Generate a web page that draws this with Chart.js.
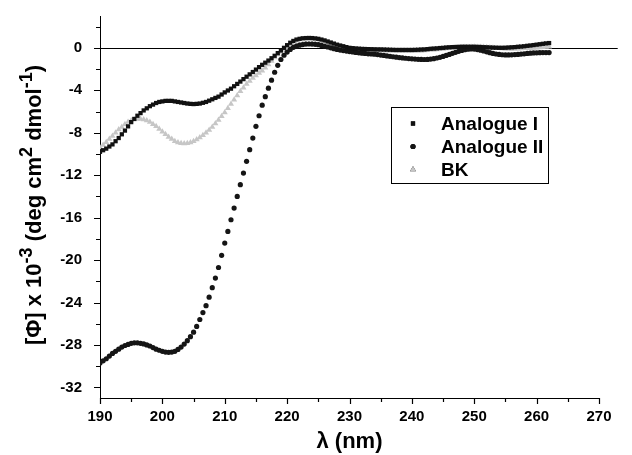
<!DOCTYPE html>
<html>
<head>
<meta charset="utf-8">
<script src="https://cdn.jsdelivr.net/npm/chart.js@4.4.1/dist/chart.umd.min.js"></script>
<style>
  body { margin: 0; background: #fff; }
  #wrap { position: relative; width: 632px; height: 455px; }
</style>
</head>
<body>
<div id="wrap"><canvas id="myChart"></canvas></div>
<script>
//////////////////////////////
////////// CD spectra ////////
//////////////////////////////

// Wavelength (nm), 0.5 nm steps
const wavelengths = [
  190,190.5,191,191.5,192,192.5,193,193.5,194,194.5,
  195,195.5,196,196.5,197,197.5,198,198.5,199,199.5,
  200,200.5,201,201.5,202,202.5,203,203.5,204,204.5,
  205,205.5,206,206.5,207,207.5,208,208.5,209,209.5,
  210,210.5,211,211.5,212,212.5,213,213.5,214,214.5,
  215,215.5,216,216.5,217,217.5,218,218.5,219,219.5,
  220,220.5,221,221.5,222,222.5,223,223.5,224,224.5,
  225,225.5,226,226.5,227,227.5,228,228.5,229,229.5,
  230,230.5,231,231.5,232,232.5,233,233.5,234,234.5,
  235,235.5,236,236.5,237,237.5,238,238.5,239,239.5,
  240,240.5,241,241.5,242,242.5,243,243.5,244,244.5,
  245,245.5,246,246.5,247,247.5,248,248.5,249,249.5,
  250,250.5,251,251.5,252,252.5,253,253.5,254,254.5,
  255,255.5,256,256.5,257,257.5,258,258.5,259,259.5,
  260,260.5,261,261.5,262
];

// [Phi] x 10^-3 for each sample
const analogueI = [
  -9.8,-9.65,-9.5,-9.3,-9.1,-8.8,-8.5,-8.15,-7.8,-7.4,
  -7.0,-6.7,-6.4,-6.15,-5.9,-5.7,-5.5,-5.35,-5.2,-5.1,
  -5.05,-5.0,-5.0,-5.0,-5.05,-5.1,-5.15,-5.2,-5.25,-5.28,
  -5.3,-5.28,-5.25,-5.18,-5.1,-4.98,-4.85,-4.72,-4.6,-4.4,
  -4.2,-4.02,-3.85,-3.62,-3.4,-3.18,-2.95,-2.72,-2.5,-2.28,
  -2.05,-1.82,-1.6,-1.4,-1.2,-0.98,-0.75,-0.5,-0.25,0.0,
  0.25,0.48,0.65,0.78,0.85,0.9,0.92,0.93,0.92,0.89,
  0.85,0.78,0.7,0.6,0.5,0.4,0.3,0.22,0.15,0.07,
  0.0,-0.03,-0.06,-0.08,-0.1,-0.11,-0.12,-0.13,-0.14,-0.15,
  -0.15,-0.16,-0.17,-0.18,-0.19,-0.2,-0.2,-0.2,-0.2,-0.2,
  -0.2,-0.19,-0.18,-0.16,-0.15,-0.12,-0.09,-0.07,-0.05,-0.02,
  0.0,0.03,0.05,0.07,0.08,0.09,0.1,0.1,0.1,0.1,
  0.1,0.09,0.08,0.06,0.05,0.03,0.02,0.01,0.0,0.0,
  0.01,0.03,0.05,0.07,0.1,0.12,0.15,0.19,0.22,0.26,
  0.3,0.34,0.38,0.42,0.45
];

const analogueII = [
  -29.7,-29.5,-29.3,-29.05,-28.8,-28.6,-28.4,-28.2,-28.05,-27.95,
  -27.85,-27.8,-27.8,-27.85,-27.9,-28.0,-28.1,-28.25,-28.4,-28.5,
  -28.6,-28.67,-28.7,-28.67,-28.6,-28.42,-28.2,-27.92,-27.6,-27.22,
  -26.8,-26.25,-25.6,-24.95,-24.3,-23.5,-22.6,-21.7,-20.7,-19.55,
  -18.4,-17.3,-16.2,-15.1,-14.0,-12.9,-11.8,-10.7,-9.6,-8.5,
  -7.4,-6.4,-5.4,-4.6,-3.8,-3.05,-2.3,-1.65,-1.1,-0.7,
  -0.4,-0.15,0.05,0.16,0.25,0.31,0.35,0.36,0.35,0.33,
  0.3,0.23,0.15,0.08,0.0,-0.08,-0.15,-0.21,-0.26,-0.31,
  -0.35,-0.39,-0.43,-0.47,-0.5,-0.53,-0.56,-0.58,-0.6,-0.64,
  -0.68,-0.72,-0.76,-0.8,-0.84,-0.88,-0.92,-0.95,-0.98,-1.01,
  -1.04,-1.06,-1.08,-1.09,-1.1,-1.09,-1.06,-1.02,-0.96,-0.89,
  -0.81,-0.72,-0.62,-0.52,-0.42,-0.33,-0.25,-0.18,-0.13,-0.11,
  -0.12,-0.16,-0.22,-0.3,-0.38,-0.46,-0.53,-0.58,-0.62,-0.65,
  -0.67,-0.67,-0.66,-0.64,-0.62,-0.59,-0.56,-0.53,-0.5,-0.48,
  -0.47,-0.46,-0.45,-0.45,-0.45
];

const bk = [
  -9.4,-9.15,-8.9,-8.6,-8.3,-8.0,-7.7,-7.45,-7.2,-7.0,
  -6.85,-6.75,-6.7,-6.7,-6.75,-6.85,-7.0,-7.2,-7.4,-7.65,
  -7.9,-8.15,-8.4,-8.6,-8.8,-8.92,-9.0,-9.02,-9.0,-8.92,
  -8.8,-8.64,-8.45,-8.24,-8.0,-7.74,-7.45,-7.14,-6.8,-6.45,
  -6.1,-5.7,-5.3,-4.9,-4.5,-4.1,-3.75,-3.42,-3.12,-2.85,
  -2.6,-2.38,-2.15,-1.88,-1.58,-1.25,-0.9,-0.62,-0.4,-0.2,
  0.0,0.1,0.2,0.28,0.35,0.4,0.44,0.45,0.45,0.43,
  0.4,0.35,0.3,0.25,0.2,0.15,0.1,0.05,0.0,-0.05,
  -0.1,-0.13,-0.15,-0.18,-0.2,-0.21,-0.22,-0.23,-0.24,-0.25,
  -0.25,-0.26,-0.27,-0.28,-0.29,-0.3,-0.3,-0.3,-0.3,-0.3,
  -0.3,-0.29,-0.28,-0.27,-0.25,-0.22,-0.19,-0.17,-0.15,-0.12,
  -0.1,-0.07,-0.05,-0.02,0.0,0.03,0.05,0.07,0.08,0.09,
  0.1,0.09,0.08,0.07,0.05,0.02,0.0,-0.03,-0.05,-0.07,
  -0.08,-0.09,-0.1,-0.09,-0.08,-0.07,-0.05,-0.04,-0.03,-0.01,
  0.0,0.03,0.06,0.08,0.1
];

// Tick labels / tick marks
const xMajorTicks = [190, 200, 210, 220, 230, 240, 250, 260, 270];
const xMinorTicks = [195, 205, 215, 225, 235, 245, 255, 265];
const yMajorTicks = [-32, -28, -24, -20, -16, -12, -8, -4, 0];
const yMinorTicks = [-30, -26, -22, -18, -14, -10, -6, -2, 2];

const seriesNames = ['Analogue I', 'Analogue II', 'BK'];

const FONT = '"Liberation Sans", Arial, Helvetica, sans-serif';

// pair up x and y
function toPoints(values) {
  return wavelengths.map((x, i) => ({ x: x, y: values[i] }));
}

// Extra drawing: zero line, tick marks, y title with superscripts, legend box
const extras = {
  id: 'extras',
  beforeDatasetsDraw(chart) {
    const ctx = chart.ctx;
    const xs = chart.scales.x, ys = chart.scales.y;
    const y0 = Math.round(ys.getPixelForValue(0)) + 0.5;
    ctx.save();
    ctx.strokeStyle = '#000';
    ctx.lineWidth = 1;
    ctx.beginPath();
    ctx.moveTo(chart.chartArea.left, y0);
    ctx.lineTo(xs.getPixelForValue(273), y0);
    ctx.stroke();
    ctx.restore();
  },
  afterDraw(chart) {
    const ctx = chart.ctx;
    const xs = chart.scales.x, ys = chart.scales.y;
    const area = chart.chartArea;
    ctx.save();
    ctx.strokeStyle = '#000';
    ctx.lineWidth = 1.2;
    ctx.beginPath();
    // x ticks (outward)
    xMajorTicks.forEach(v => {
      const px = Math.round(xs.getPixelForValue(v)) + 0.5;
      ctx.moveTo(px, area.bottom); ctx.lineTo(px, area.bottom + 6);
    });
    xMinorTicks.forEach(v => {
      const px = Math.round(xs.getPixelForValue(v)) + 0.5;
      ctx.moveTo(px, area.bottom); ctx.lineTo(px, area.bottom + 4);
    });
    // y ticks (outward)
    yMajorTicks.forEach(v => {
      const py = Math.round(ys.getPixelForValue(v)) + 0.5;
      ctx.moveTo(area.left, py); ctx.lineTo(area.left - 6, py);
    });
    yMinorTicks.forEach(v => {
      const py = Math.round(ys.getPixelForValue(v)) + 0.5;
      ctx.moveTo(area.left, py); ctx.lineTo(area.left - 4, py);
    });
    ctx.stroke();

    // y axis title with superscripts
    const parts = [
      { t: '[\u03A6] x 10', sup: false },
      { t: '-3', sup: true },
      { t: ' (deg cm', sup: false },
      { t: '2', sup: true },
      { t: ' dmol', sup: false },
      { t: '-1', sup: true },
      { t: ')', sup: false }
    ];
    const mainFont = 'bold 22px ' + FONT;
    const supFont = 'bold 18px ' + FONT;
    let total = 0;
    parts.forEach(p => {
      ctx.font = p.sup ? supFont : mainFont;
      p.w = ctx.measureText(p.t).width;
      total += p.w;
    });
    ctx.translate(41, 205);
    ctx.rotate(-Math.PI / 2);
    ctx.fillStyle = '#000';
    ctx.textBaseline = 'alphabetic';
    ctx.textAlign = 'left';
    let cx = -total / 2;
    parts.forEach(p => {
      ctx.font = p.sup ? supFont : mainFont;
      ctx.fillText(p.t, cx, p.sup ? -9 : 0);
      cx += p.w;
    });
    ctx.restore();

    // legend
    ctx.save();
    ctx.strokeStyle = '#000';
    ctx.lineWidth = 1;
    ctx.strokeRect(391.5, 107.5, 157, 76);
    ctx.font = 'bold 19px ' + FONT;
    ctx.textBaseline = 'middle';
    ctx.fillStyle = '#000';
    chart.data.datasets.forEach((ds, i) => {
      const ly = 123.5 + i * 23;
      Chart.helpers.drawPoint(ctx, {
        pointStyle: ds.pointStyle,
        radius: ds.pointRadius,
        rotation: 0,
        borderWidth: 0
      }, 413, ly);
      ctx.fillStyle = ds.backgroundColor;
      ctx.fill();
      ctx.fillStyle = '#000';
      ctx.fillText(seriesNames[i], 441, ly + 1);
    });
    ctx.restore();
  }
};

var myChart = new Chart(document.getElementById('myChart'), {
  type: 'scatter',
  data: {
    datasets: [
      {
        label: seriesNames[0],
        data: toPoints(analogueI),
        pointStyle: 'rect',
        pointRadius: 3,
        backgroundColor: '#111111',
        borderColor: '#111111',
        borderWidth: 0
      },
      {
        label: seriesNames[1],
        data: toPoints(analogueII),
        pointStyle: 'circle',
        pointRadius: 2.6,
        backgroundColor: '#151515',
        borderColor: '#151515',
        borderWidth: 0
      },
      {
        label: seriesNames[2],
        data: toPoints(bk),
        pointStyle: 'triangle',
        pointRadius: 3.5,
        backgroundColor: '#c6c6c6',
        borderColor: '#c6c6c6',
        borderWidth: 0
      }
    ]
  },
  options: {
    responsive: true,
    maintainAspectRatio: false,
    animation: false,
    layout: { padding: { top: 16, right: 33, left: 0, bottom: 0 } },
    plugins: {
      legend: { display: false },
      tooltip: { enabled: false }
    },
    scales: {
      x: {
        type: 'linear',
        min: 190,
        max: 270,
        afterBuildTicks: (s) => { s.ticks = xMajorTicks.map(v => ({ value: v })); },
        afterFit: (s) => { s.height = 57; s.paddingLeft = 0; s.paddingRight = 0; },
        grid: { display: false, drawTicks: false },
        border: { display: true, color: '#000', width: 1 },
        ticks: {
          color: '#000',
          padding: 10,
          maxRotation: 0,
          font: { family: FONT, size: 15, weight: 'bold' }
        },
        title: {
          display: true,
          text: '\u03BB (nm)',
          color: '#000',
          padding: { top: 0, bottom: 0 },
          font: { family: FONT, size: 22, weight: 'bold' }
        }
      },
      y: {
        min: -33,
        max: 3,
        afterBuildTicks: (s) => { s.ticks = yMajorTicks.map(v => ({ value: v })); },
        afterFit: (s) => { s.width = 100; s.paddingTop = 0; s.paddingBottom = 0; },
        grid: { display: false, drawTicks: false },
        border: { display: true, color: '#000', width: 1 },
        ticks: {
          color: '#000',
          padding: 18,
          font: { family: FONT, size: 15, weight: 'bold' }
        }
      }
    }
  },
  plugins: [extras]
});
</script>
</body>
</html>
